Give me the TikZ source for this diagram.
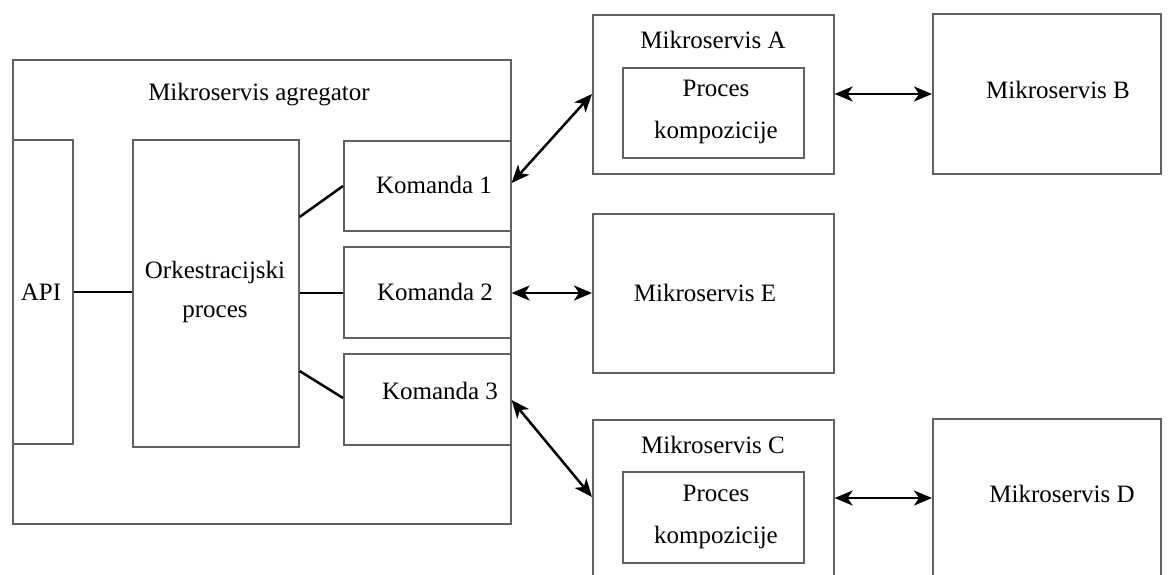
\documentclass[tikz,border=0pt]{standalone}
\usepackage{fontspec}
\setmainfont{Liberation Serif}
\usetikzlibrary{arrows.meta}
\begin{document}
\begin{tikzpicture}[x=1pt,y=-1pt,
  box/.style={draw=black!62,line width=1.6pt,inner sep=0pt,anchor=north west},
  txt/.style={font=\fontsize{25}{29}\selectfont,inner sep=0pt,align=center},
  link/.style={draw=black,line width=2.5pt},
  biarrow/.style={draw=black,line width=2.5pt,{Stealth[length=18pt,width=15pt,inset=5pt]}-{Stealth[length=18pt,width=15pt,inset=5pt]}}]
\useasboundingbox (0,0) rectangle (1169,574);
\clip (0,0) rectangle (1169,574);
% aggregator
\node[box,minimum width=498pt,minimum height=464pt] (agg) at (12,59) {};
\node[txt] (aggt) at (259,95) {Mikroservis agregator};
\node[box,minimum width=60pt,minimum height=304pt] (api) at (12,139) {};
\node[txt] (apit) at (41,292) {API};
\node[box,minimum width=166pt,minimum height=307pt] (orch) at (132,139) {};
\node[txt] (orcht) at (215,292) {Orkestracijski\\[10pt]proces};
\node[box,minimum width=167pt,minimum height=90pt] (k1) at (343,140) {};
\node[txt] at (434,185) {Komanda 1};
\node[box,minimum width=167pt,minimum height=91pt] (k2) at (343,246) {};
\node[txt] at (435,292) {Komanda 2};
\node[box,minimum width=167pt,minimum height=91pt] (k3) at (343,353) {};
\node[txt] at (440,391) {Komanda 3};
% microservices
\node[box,minimum width=241pt,minimum height=159pt] (a) at (592,14) {};
\node[txt] (at) at (713,40) {Mikroservis A};
\node[box,minimum width=181pt,minimum height=90pt] (ai) at (622,67) {};
\node[txt] at (716,112) {Proces\\[13pt]kompozicije};
\node[box,minimum width=228pt,minimum height=160pt] (b) at (932,13) {};
\node[txt] at (1058,90) {Mikroservis B};
\node[box,minimum width=241pt,minimum height=159pt] (e) at (592,213) {};
\node[txt] at (705,293) {Mikroservis E};
\node[box,minimum width=241pt,minimum height=200pt] (c) at (592,419) {};
\node[txt] (ct) at (713,445) {Mikroservis C};
\node[box,minimum width=181pt,minimum height=91pt] (ci) at (622,471) {};
\node[txt] at (716,517) {Proces\\[13pt]kompozicije};
\node[box,minimum width=228pt,minimum height=200pt] (d) at (932,418) {};
\node[txt] at (1062,494) {Mikroservis D};
% plain links
\draw[link] (api.east |- 0,292) -- (orch.west |- 0,292);
\draw[link] (orch.east |- 0,217) -- (k1.west |- 0,186);
\draw[link] (orch.east |- 0,293) -- (k2.west |- 0,293);
\draw[link] (orch.east |- 0,371) -- (k3.west |- 0,398);
% arrows
\draw[biarrow] (k1.east |- 0,183) -- (a.west |- 0,94);
\draw[biarrow] (k2.east |- 0,293) -- (e.west |- 0,293);
\draw[biarrow] (k3.east |- 0,400) -- (c.west |- 0,497);
\draw[biarrow] (a.east |- 0,94) -- (b.west |- 0,94);
\draw[biarrow] (c.east |- 0,498) -- (d.west |- 0,498);
\end{tikzpicture}
\end{document}
